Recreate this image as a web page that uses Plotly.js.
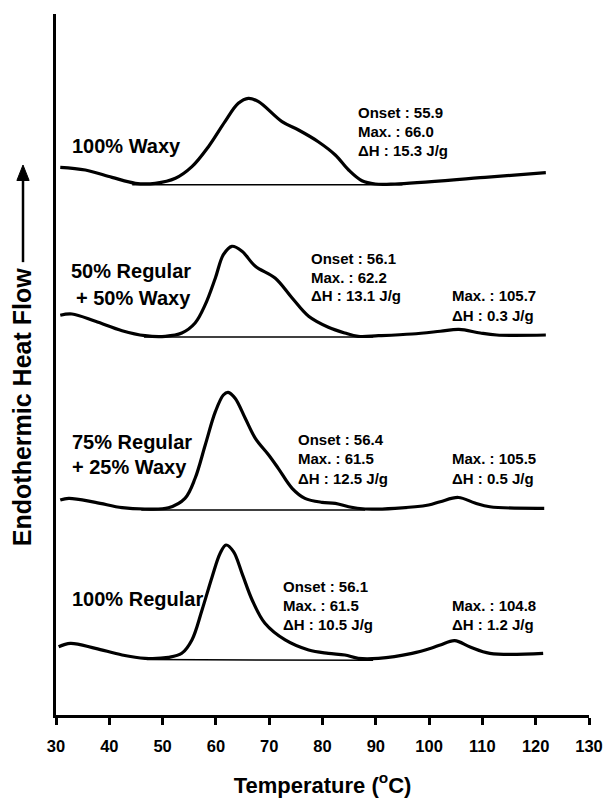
<!DOCTYPE html>
<html>
<head>
<meta charset="utf-8">
<script src="https://cdn.plot.ly/plotly-3.0.1.min.js"></script>
<style>html,body{margin:0;padding:0;background:#fff;}#chart{width:607px;height:800px;}</style>
</head>
<body>
<div id="chart"></div>
<script>
// Temperature (°C) and heat-flow (arbitrary units, curves offset)
const tempWaxy = [30.8, 35.5, 40.5, 44.9, 48.6, 52.4, 55.5, 58.6, 61.7, 64.2, 66.1, 68.0, 72.4, 75.5, 79.2, 82.4, 84.9, 87.4, 89.9, 93.6, 110.5, 121.9];
const flowWaxy = [78.13, 77.75, 76.70, 75.85, 75.85, 76.56, 78.22, 81.07, 84.64, 87.26, 87.97, 87.49, 84.64, 83.45, 81.78, 79.89, 77.75, 76.22, 75.75, 75.75, 76.70, 77.36];

const temp50 = [30.8, 33.0, 37.4, 42.4, 46.7, 50.5, 53.6, 56.1, 58.0, 59.9, 61.4, 63.0, 64.9, 67.4, 71.1, 74.3, 77.4, 81.1, 84.2, 86.7, 90.5, 96.8, 102.1, 105.6, 109.6, 112.7, 121.9];
const flow50 = [57.02, 57.20, 56.16, 54.82, 54.11, 54.02, 54.49, 55.92, 58.53, 62.34, 65.66, 66.86, 66.15, 64.01, 62.34, 59.49, 56.88, 55.31, 54.49, 54.02, 54.11, 54.35, 54.74, 55.02, 54.49, 54.21, 54.21];

const temp75 = [30.8, 32.4, 37.4, 42.4, 46.7, 51.1, 54.2, 56.1, 58.0, 59.9, 61.4, 62.3, 63.6, 65.5, 67.4, 69.9, 71.7, 74.3, 76.7, 79.9, 82.4, 84.9, 88.0, 93.6, 99.9, 102.1, 105.5, 108.6, 111.4, 121.6];
const flow75 = [30.67, 30.91, 30.34, 29.57, 29.39, 29.57, 30.91, 33.77, 38.52, 43.27, 45.65, 46.03, 45.18, 42.33, 39.47, 37.09, 35.19, 32.34, 30.91, 30.34, 30.20, 29.70, 29.39, 29.49, 29.96, 30.43, 31.03, 30.24, 29.71, 29.49];

const tempReg = [30.5, 32.7, 37.4, 42.4, 46.7, 51.1, 53.6, 55.5, 57.4, 59.3, 60.8, 61.9, 63.3, 64.9, 66.8, 69.2, 73.0, 77.4, 81.1, 84.2, 86.7, 90.5, 96.8, 100.5, 102.1, 104.8, 107.7, 111.4, 121.4];
const flowReg = [9.74, 10.23, 9.51, 8.56, 8.09, 8.23, 8.80, 10.70, 14.98, 19.73, 23.07, 24.25, 23.30, 20.21, 16.41, 13.08, 10.70, 9.27, 8.80, 8.56, 8.09, 8.09, 8.80, 9.56, 9.99, 10.60, 9.70, 8.80, 8.80];

// integration baselines
const baseWaxyT = [44.3, 95.0], baseWaxyY = [75.65, 75.65];
const base50T = [46.5, 89.5], base50Y = [53.92, 53.92];
const base75T = [46.0, 88.0], base75Y = [29.24, 29.24];
const baseRegT = [47.0, 89.5], baseRegY = [7.90, 7.80];

const xTicks = [30, 40, 50, 60, 70, 80, 90, 100, 110, 120, 130];

// annotation text
const sampleNames = ["100% Waxy", "50% Regular", "+ 50% Waxy", "75% Regular", "+ 25% Waxy", "100% Regular"];
const onsetLines = [
  ["Onset : 55.9", "Max. : 66.0", "ΔH : 15.3 J/g"],
  ["Onset : 56.1", "Max. : 62.2", "ΔH : 13.1 J/g"],
  ["Onset : 56.4", "Max. : 61.5", "ΔH : 12.5 J/g"],
  ["Onset : 56.1", "Max. : 61.5", "ΔH : 10.5 J/g"]
];
const secondLines = [
  ["Max. : 105.7", "ΔH : 0.3 J/g"],
  ["Max. : 105.5", "ΔH : 0.5 J/g"],
  ["Max. : 104.8", "ΔH : 1.2 J/g"]
];

const FONT = "Liberation Sans, Arial, Helvetica, sans-serif";
const curveLine = {color: "#000", width: 3.2, shape: "spline", smoothing: 1};
const baseLine = {color: "#000", width: 1.5};

const traces = [
  {x: tempWaxy, y: flowWaxy, name: "100% Waxy", mode: "lines", line: curveLine},
  {x: baseWaxyT, y: baseWaxyY, mode: "lines", line: baseLine},
  {x: temp50, y: flow50, name: "50% Regular + 50% Waxy", mode: "lines", line: curveLine},
  {x: base50T, y: base50Y, mode: "lines", line: baseLine},
  {x: temp75, y: flow75, name: "75% Regular + 25% Waxy", mode: "lines", line: curveLine},
  {x: base75T, y: base75Y, mode: "lines", line: baseLine},
  {x: tempReg, y: flowReg, name: "100% Regular", mode: "lines", line: curveLine},
  {x: baseRegT, y: baseRegY, mode: "lines", line: baseLine}
];

const labFont = {family: FONT, size: 20, color: "#000", weight: 700};
const blkFont = {family: FONT, size: 15, color: "#000", weight: 700};

function ann(text, x, y, font, xanchor) {
  return {text: text, x: x, y: y, xref: "x", yref: "y", showarrow: false,
          font: font, xanchor: xanchor || "left", yanchor: "middle"};
}

const annotations = [
  ann(sampleNames[0], 32.6, 81.17, labFont),
  ann(sampleNames[1], 55.7, 63.27, labFont, "right"),
  ann(sampleNames[2], 55.7, 59.49, labFont, "right"),
  ann(sampleNames[3], 32.6, 38.99, labFont),
  ann(sampleNames[4], 32.6, 35.33, labFont),
  ann(sampleNames[5], 32.6, 16.55, labFont)
];
const blockX = [86.3, 77.5, 75.1, 72.3];
const blockY = [[85.88, 83.17, 80.46], [65.19, 62.48, 59.91], [39.33, 36.62, 33.77], [18.40, 15.69, 12.84]];
onsetLines.forEach((lines, i) => lines.forEach((t, j) => annotations.push(ann(t, blockX[i], blockY[i][j], blkFont))));
const secY = [[59.91, 57.06], [36.62, 33.77], [15.69, 12.84]];
secondLines.forEach((lines, i) => lines.forEach((t, j) => annotations.push(ann(t, 103.9, secY[i][j], blkFont))));

// y-axis title
annotations.push({text: "Endothermic Heat Flow", xref: "paper", yref: "paper", x: -0.064, y: 0.439,
  textangle: -90, showarrow: false, xanchor: "center", yanchor: "middle",
  font: {family: FONT, size: 25, color: "#000", weight: 700}});

// upward arrow after the y title (paper coordinates)
const ax = -0.0619;
const shapes = [
  {type: "line", xref: "paper", yref: "paper", x0: ax, x1: ax, y0: 0.646, y1: 0.772,
   line: {color: "#000", width: 2.5}},
  {type: "path", xref: "paper", yref: "paper",
   path: "M " + (ax - 0.0115) + " 0.7625 L " + (ax + 0.0115) + " 0.7625 L " + ax + " 0.7846 Z",
   fillcolor: "#000", line: {color: "#000", width: 1}}
];

const layout = {
  width: 607, height: 800,
  margin: {l: 56, r: 18, t: 14, b: 85},
  paper_bgcolor: "#fff", plot_bgcolor: "#fff",
  showlegend: false,
  xaxis: {
    range: [30, 130], tickvals: xTicks, ticktext: xTicks.map(String),
    showgrid: false, zeroline: false, showline: true, linecolor: "#000", linewidth: 3,
    ticks: "outside", ticklen: 7, tickwidth: 3, tickcolor: "#000", ticklabelstandoff: 7,
    tickfont: {family: FONT, size: 16.5, color: "#000", weight: 700},
    title: {text: "Temperature (<sup>o</sup>C)", standoff: 24, font: {family: FONT, size: 22, color: "#000", weight: 700}},
    automargin: false, fixedrange: true
  },
  yaxis: {
    range: [0, 100], showticklabels: false, ticks: "", showgrid: false, zeroline: false,
    showline: true, linecolor: "#000", linewidth: 3, automargin: false, fixedrange: true
  },
  annotations: annotations,
  shapes: shapes
};

Plotly.newPlot("chart", traces, layout, {displayModeBar: false, staticPlot: true});
</script>
</body>
</html>
